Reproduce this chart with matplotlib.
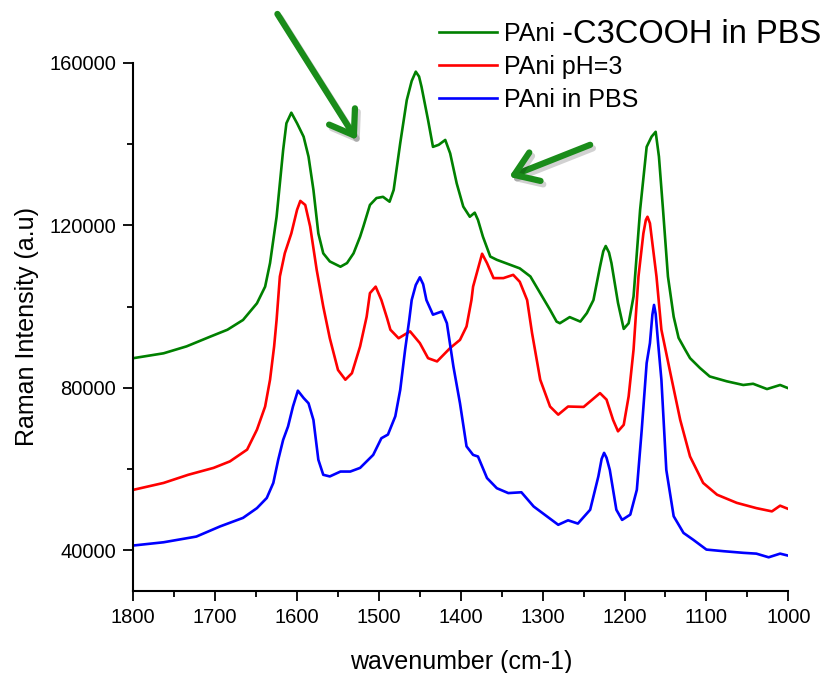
import matplotlib
matplotlib.use("Agg")
import matplotlib.pyplot as plt
import matplotlib.patheffects as pe
from matplotlib.ticker import MultipleLocator
from matplotlib.lines import Line2D

plt.rcParams["font.family"] = ["Liberation Sans", "DejaVu Sans"]

# PAni-C3COOH in PBS (green)
green_wn = [1800, 1763, 1735, 1706, 1685, 1666, 1649, 1639, 1633, 1625, 1617, 1613, 1607, 1600,
            1592, 1586, 1580, 1574, 1568, 1560, 1547, 1539, 1531, 1523, 1519, 1511, 1503,
            1495, 1487, 1482, 1474, 1466, 1460, 1455, 1451, 1448, 1440, 1434, 1427, 1419, 1413, 1405,
            1397, 1389, 1383, 1379, 1373, 1364, 1356, 1340, 1328, 1315, 1303, 1291, 1283,
            1279, 1267, 1254, 1246, 1238, 1230, 1226, 1223, 1219, 1216, 1208, 1201, 1195, 1189, 1181,
            1173, 1167, 1162, 1158, 1153, 1147, 1140, 1134, 1126, 1120, 1108, 1096, 1075,
            1055, 1043, 1026, 1010, 1000]
green_int = [87300, 88500, 90200, 92600, 94300, 96700, 100800, 104900, 110700, 122100, 138500,
             145100, 147700, 145100, 141800, 136900, 128700, 118000, 113100, 111100, 109800,
             110700, 113100, 117200, 119700, 125000, 126700, 127000, 125800, 128700, 140200,
             150800, 155500, 157800, 156600, 154100, 145900, 139300, 139800, 141000, 137700, 130300, 124600,
             122100, 123100, 121300, 117200, 112300, 111500, 110300, 109400, 107400, 103300,
             99200, 96300, 95900, 97400, 96300, 98400, 101600, 109800, 113600, 114900, 113300, 110700,
             100900, 94500, 95900, 102500, 123800, 139300, 141800, 143000, 136900, 123800,
             107400, 97500, 92300, 89400, 87300, 84900, 82800, 81600, 80700, 81000, 79700,
             80700, 79900]

# PAni pH=3 (red)
red_wn = [1800, 1763, 1733, 1702, 1682, 1661, 1649, 1639, 1633, 1628, 1625, 1621, 1615,
          1607, 1600, 1596, 1590, 1584, 1576, 1568, 1560, 1550, 1541, 1533, 1523, 1515,
          1511, 1504, 1497, 1490, 1486, 1476, 1462, 1450, 1440, 1429, 1413, 1401, 1393,
          1387, 1385, 1374, 1368, 1360, 1348, 1336, 1328, 1319, 1313, 1303, 1291, 1281,
          1269, 1250, 1230, 1222, 1214, 1208, 1201, 1195, 1189, 1183, 1177, 1174, 1172, 1169, 1167,
          1161, 1155, 1144, 1132, 1120, 1104, 1087, 1063, 1039, 1020, 1010, 1000]
red_int = [54900, 56600, 58600, 60300, 61900, 64800, 69700, 75400, 82000, 90200, 96700,
           107400, 113100, 118000, 123800, 126000, 125000, 119700, 109000, 100000, 92200,
           84400, 82000, 83600, 90200, 97500, 103300, 104900, 101600, 97100, 94300, 92200,
           93900, 91000, 87300, 86500, 89800, 91800, 95100, 101600, 104900, 113000, 110700,
           107000, 107000, 107800, 106100, 101600, 93500, 82000, 75400, 73400, 75400, 75300,
           78700, 77100, 72100, 69300, 70900, 77900, 89400, 107400, 118000, 121300, 122100, 120500, 117200,
           107400, 94300, 83600, 72100, 63100, 56600, 53700, 51700, 50400, 49600, 51000,
           50200]

# PAni in PBS (blue)
blue_wn = [1800, 1763, 1723, 1694, 1666, 1649, 1637, 1629, 1623, 1617, 1611, 1605, 1599,
           1592, 1586, 1580, 1574, 1568, 1560, 1547, 1535, 1523, 1507, 1497, 1489, 1480,
           1474, 1468, 1463, 1460, 1455, 1450, 1446, 1442, 1434, 1423, 1417, 1409, 1401, 1393,
           1385, 1379, 1368, 1356, 1342, 1326, 1311, 1295, 1281, 1269, 1257, 1242, 1232,
           1228, 1225, 1222, 1218, 1210, 1203, 1193, 1185, 1179, 1173, 1169, 1166, 1164, 1162, 1159, 1155, 1149,
           1140, 1128, 1116, 1100, 1079, 1055, 1039, 1024, 1010, 1000]
blue_int = [41200, 42000, 43400, 45900, 48000, 50400, 52900, 56600, 62300, 67200, 70500,
            75400, 79300, 77500, 76200, 72100, 62300, 58600, 58200, 59400, 59400, 60300,
            63500, 67600, 68500, 73000, 79500, 89400, 96700, 101600, 105300, 107200, 105500, 101600,
            98000, 98800, 95900, 85200, 76200, 65600, 63500, 63100, 57800, 55300, 54100,
            54300, 50800, 48400, 46300, 47400, 46600, 50000, 58200, 62500, 64000, 62800, 59800, 50000,
            47500, 48800, 54900, 69700, 86100, 91000, 98000, 100400, 98200, 91000, 82000, 59800, 48400,
            44300, 42600, 40200, 39800, 39400, 39200, 38300, 39200, 38700]

# arrows (tail, head) in data units
arrow1 = ((1624, 172000), (1527, 141000))
arrow2 = ((1242, 139800), (1341, 131900))

fig = plt.figure(figsize=(8.27, 6.73), dpi=100)
ax = fig.add_axes([0.1612, 0.1218, 0.9532 - 0.1612, 0.9068 - 0.1218])

lw = 1.9
ax.plot(green_wn, green_int, color="#008000", lw=lw)
ax.plot(red_wn, red_int, color="#FF0000", lw=lw)
ax.plot(blue_wn, blue_int, color="#0000FF", lw=lw)

ax.set_xlim(1800, 1000)
ax.set_ylim(30000, 160000)
ax.xaxis.set_major_locator(MultipleLocator(100))
ax.xaxis.set_minor_locator(MultipleLocator(50))
ax.yaxis.set_major_locator(MultipleLocator(40000))
ax.yaxis.set_minor_locator(MultipleLocator(20000))

for side in ("top", "right"):
    ax.spines[side].set_visible(False)
for side in ("left", "bottom"):
    ax.spines[side].set_linewidth(1.5)

ax.tick_params(which="major", length=7.5, width=1.3, labelsize=14.5, pad=5, direction="out")
ax.tick_params(which="minor", length=4, width=1.3, direction="out")

ax.set_xlabel("wavenumber (cm-1)", fontsize=18, labelpad=16)
ax.set_ylabel("Raman Intensity (a.u)", fontsize=18, labelpad=7)

handles = [
    Line2D([], [], color="#008000", lw=lw),
    Line2D([], [], color="#FF0000", lw=lw),
    Line2D([], [], color="#0000FF", lw=lw),
]
labels = ["PAni", "PAni pH=3", "PAni in PBS"]
fig.legend(handles, labels, loc="upper left", bbox_to_anchor=(439 / 827, 0.968),
           frameon=False, fontsize=18, handlelength=2.33, handletextpad=0.28,
           labelspacing=0.36, borderpad=0, borderaxespad=0)
fig.text(562 / 827, 0.9357, "-C3COOH in PBS", fontsize=23.5, va="baseline", ha="left")

arrow_color = "#1A8C1A"
for tail, head in (arrow1, arrow2):
    ax.annotate("", xy=head, xytext=tail, xycoords="data", annotation_clip=False,
                arrowprops=dict(arrowstyle="->,head_length=0.8,head_width=0.55",
                                color=arrow_color, lw=4.5, mutation_scale=20,
                                shrinkA=0, shrinkB=0,
                                path_effects=[pe.SimpleLineShadow(offset=(2, -2.5), alpha=0.18),
                                              pe.Normal()]))

fig.savefig("out.png", dpi=100, facecolor="white")
